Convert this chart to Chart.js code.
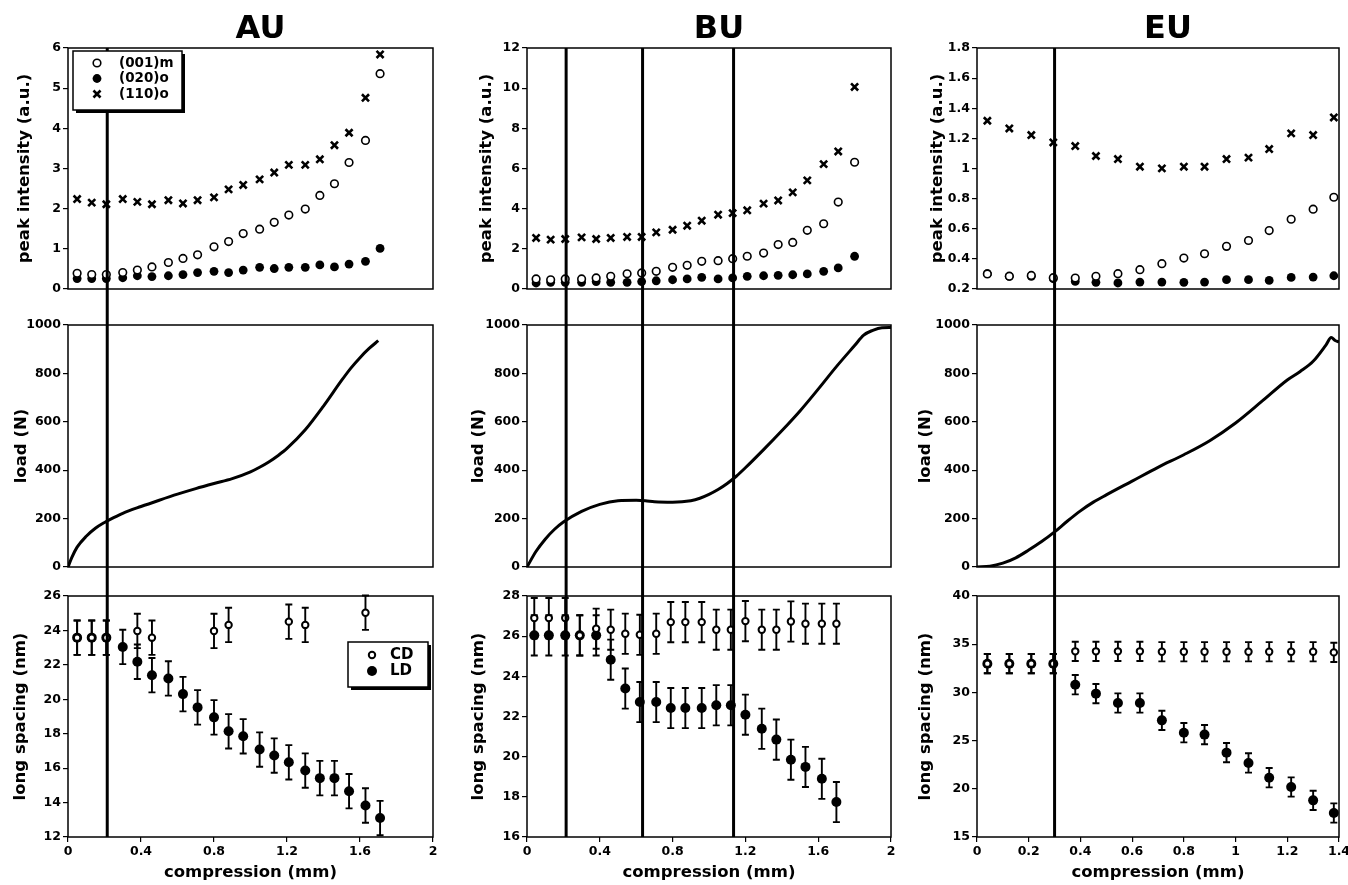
<!DOCTYPE html>
<html>
<head>
<meta charset="utf-8">
<title>AU / BU / EU under compression</title>
<script src="https://cdn.jsdelivr.net/npm/chart.js@4.4.0/dist/chart.umd.min.js"></script>
<style>
  html, body { margin: 0; padding: 0; background: #fff; overflow: hidden; }
  #fig { position: relative; width: 1348px; height: 885px; }
  #fig canvas { position: absolute; }
</style>
</head>
<body>
<div id="fig"></div>
<script>
// ---- AU ----
const auX = [0.05, 0.13, 0.21, 0.30, 0.38, 0.46, 0.55, 0.63, 0.71, 0.80, 0.88, 0.96, 1.05, 1.13, 1.21, 1.30, 1.38, 1.46, 1.54, 1.63, 1.71];
const au001 = [0.39, 0.36, 0.36, 0.41, 0.47, 0.55, 0.66, 0.76, 0.85, 1.05, 1.18, 1.38, 1.49, 1.66, 1.84, 1.99, 2.33, 2.62, 3.15, 3.70, 5.36];
const au020 = [0.26, 0.26, 0.26, 0.28, 0.33, 0.31, 0.33, 0.36, 0.41, 0.44, 0.41, 0.47, 0.54, 0.51, 0.54, 0.54, 0.60, 0.55, 0.62, 0.69, 1.01];
const au110 = [2.24, 2.15, 2.11, 2.24, 2.17, 2.11, 2.21, 2.13, 2.21, 2.28, 2.48, 2.59, 2.73, 2.90, 3.09, 3.09, 3.23, 3.58, 3.89, 4.76, 5.84];
const auLoadX = [0, 0.02, 0.05, 0.1, 0.15, 0.2, 0.25, 0.3, 0.4, 0.5, 0.6, 0.7, 0.8, 0.9, 1.0, 1.05, 1.1, 1.15, 1.2, 1.3, 1.4, 1.5, 1.55, 1.6, 1.65, 1.7];
const auLoad = [0, 38, 82, 127, 160, 184, 204, 222, 250, 276, 301, 324, 345, 365, 393, 412, 434, 460, 490, 567, 665, 772, 822, 865, 903, 935];
const auCD = [23.58, 23.58, 23.58, null, 23.97, 23.58, null, null, null, 23.97, 24.32, null, null, null, 24.51, 24.32, null, null, null, 25.03, null];
const auLD = [23.58, 23.58, 23.58, 23.04, 22.18, 21.40, 21.21, 20.30, 19.53, 18.95, 18.14, 17.85, 17.08, 16.73, 16.34, 15.86, 15.42, 15.42, 14.66, 13.83, 13.10];
const auErr = 1.0;
const auMarks = [0.215];

// ---- BU ----
const buX = [0.05, 0.13, 0.21, 0.30, 0.38, 0.46, 0.55, 0.63, 0.71, 0.80, 0.88, 0.96, 1.05, 1.13, 1.21, 1.30, 1.38, 1.46, 1.54, 1.63, 1.71, 1.80];
const bu001 = [0.50, 0.46, 0.50, 0.50, 0.55, 0.63, 0.76, 0.80, 0.88, 1.08, 1.18, 1.38, 1.41, 1.51, 1.63, 1.79, 2.21, 2.32, 2.92, 3.25, 4.33, 6.31];
const bu020 = [0.30, 0.33, 0.33, 0.33, 0.37, 0.33, 0.33, 0.37, 0.41, 0.46, 0.50, 0.58, 0.50, 0.55, 0.63, 0.66, 0.68, 0.71, 0.75, 0.88, 1.05, 1.63];
const bu110 = [2.54, 2.46, 2.49, 2.57, 2.49, 2.54, 2.59, 2.59, 2.82, 2.95, 3.15, 3.40, 3.70, 3.78, 3.92, 4.25, 4.41, 4.81, 5.41, 6.22, 6.85, 10.06];
const buLoadX = [0, 0.05, 0.1, 0.15, 0.2, 0.3, 0.4, 0.5, 0.6, 0.65, 0.7, 0.8, 0.9, 0.95, 1.0, 1.05, 1.1, 1.15, 1.2, 1.3, 1.4, 1.5, 1.6, 1.7, 1.8, 1.85, 1.9, 1.95, 2.0];
const buLoad = [0, 65, 115, 155, 186, 230, 259, 274, 276, 274, 270, 268, 274, 284, 300, 320, 345, 375, 410, 485, 563, 645, 735, 828, 915, 958, 978, 989, 990];
const buSpX = [0.04, 0.12, 0.21, 0.29, 0.38, 0.46, 0.54, 0.62, 0.71, 0.79, 0.87, 0.96, 1.04, 1.12, 1.20, 1.29, 1.37, 1.45, 1.53, 1.62, 1.70];
const buCD = [26.9, 26.9, 26.9, 26.04, 26.37, 26.32, 26.12, 26.07, 26.12, 26.7, 26.7, 26.7, 26.32, 26.32, 26.75, 26.32, 26.32, 26.73, 26.62, 26.62, 26.62];
const buLD = [26.04, 26.04, 26.04, 26.04, 26.04, 24.83, 23.39, 22.72, 22.72, 22.42, 22.42, 22.42, 22.56, 22.56, 22.09, 21.39, 20.85, 19.85, 19.49, 18.90, 17.74];
const buErr = 1.0;
const buMarks = [0.215, 0.635, 1.135];

// ---- EU ----
const euX = [0.04, 0.125, 0.21, 0.295, 0.38, 0.46, 0.545, 0.63, 0.715, 0.80, 0.88, 0.965, 1.05, 1.13, 1.215, 1.30, 1.38];
const eu001 = [0.30, 0.285, 0.29, 0.275, 0.273, 0.284, 0.302, 0.328, 0.368, 0.405, 0.434, 0.483, 0.522, 0.588, 0.663, 0.730, 0.809];
const eu020 = [0.302, 0.284, 0.284, 0.268, 0.25, 0.244, 0.240, 0.246, 0.246, 0.244, 0.246, 0.262, 0.262, 0.257, 0.277, 0.279, 0.288];
const eu110 = [1.317, 1.266, 1.222, 1.173, 1.149, 1.083, 1.063, 1.012, 1.001, 1.012, 1.012, 1.063, 1.072, 1.129, 1.233, 1.222, 1.339];
const euLoadX = [0, 0.05, 0.1, 0.15, 0.2, 0.25, 0.3, 0.35, 0.4, 0.45, 0.5, 0.6, 0.7, 0.8, 0.9, 1.0, 1.1, 1.2, 1.25, 1.3, 1.35, 1.37, 1.385, 1.4];
const euLoad = [0, 3, 16, 38, 70, 105, 145, 190, 232, 268, 298, 355, 412, 464, 522, 595, 683, 773, 808, 850, 918, 948, 936, 930];
const euCD = [32.98, 32.98, 32.98, 32.98, 34.26, 34.26, 34.26, 34.26, 34.22, 34.22, 34.22, 34.22, 34.22, 34.22, 34.22, 34.22, 34.15];
const euLD = [32.98, 32.98, 32.98, 32.98, 30.80, 29.87, 28.90, 28.90, 27.10, 25.82, 25.62, 23.75, 22.68, 21.15, 20.19, 18.80, 17.49];
const euErr = 1.0;
const euMarks = [0.30];

// panel geometry
const COLS = {
  AU: { left: 0,   width: 450, axisW: 68, padR: 17, xMax: 2,   xStep: 0.4, titlePad: [16, 13, 12] },
  BU: { left: 450, width: 450, axisW: 77, padR: 9,  xMax: 2,   xStep: 0.4, titlePad: [28, 20, 20] },
  EU: { left: 900, width: 460, axisW: 77, padR: 21, xMax: 1.4, xStep: 0.2, titlePad: [29, 17, 17] }
};
const ROWS = [
  { top: 0,   height: 300, padT: 48, padB: 11 },
  { top: 300, height: 285, padT: 25, padB: 18 },
  { top: 585, height: 300, padT: 11, padB: 0 }
];

const FAMILY = "'DejaVu Sans', sans-serif";
const TICK_FONT = { family: FAMILY, size: 12.5, weight: 'bold' };
const AXIS_FONT = { family: FAMILY, size: 16.5, weight: 'bold', lineHeight: 1 };
Chart.defaults.font.family = FAMILY;
Chart.defaults.color = '#000';

const fmt = v => String(+Number(v).toFixed(3));
const pts = (xs, ys) => xs.map((x, i) => ({ x, y: ys[i] })).filter(p => p.y != null);

// styles of the three reflections and the two spacings
const S001 = { pointStyle: 'circle', pointRadius: 3.8, backgroundColor: '#fff', borderColor: '#000', borderWidth: 1.6 };
const S020 = { pointStyle: 'circle', pointRadius: 4.4, backgroundColor: '#000', borderColor: '#000', borderWidth: 0 };
const S110 = { pointStyle: 'crossRot', pointRadius: 5, backgroundColor: '#000', borderColor: '#000', borderWidth: 2.6 };
const SCD = { pointStyle: 'circle', pointRadius: 3.2, backgroundColor: '#fff', borderColor: '#000', borderWidth: 2 };
const SLD = { pointStyle: 'circle', pointRadius: 5, backgroundColor: '#000', borderColor: '#000', borderWidth: 0 };

// box round every plot area
const frame = {
  id: 'frame',
  beforeDatasetsDraw(chart) {
    const { ctx, chartArea: a } = chart;
    ctx.save();
    ctx.strokeStyle = '#000';
    ctx.lineWidth = 1.5;
    ctx.strokeRect(a.left, a.top, a.right - a.left, a.bottom - a.top);
    ctx.restore();
  }
};

// vertical error bars with caps
const errorBars = {
  id: 'errorBars',
  beforeDatasetsDraw(chart) {
    const { ctx, scales: { x, y } } = chart;
    ctx.save();
    ctx.strokeStyle = '#000';
    ctx.lineWidth = 1.9;
    chart.data.datasets.forEach(ds => {
      if (!ds.yErr) return;
      ds.data.forEach(p => {
        const px = x.getPixelForValue(p.x);
        const lo = y.getPixelForValue(p.y - ds.yErr);
        const hi = y.getPixelForValue(p.y + ds.yErr);
        ctx.beginPath();
        ctx.moveTo(px, lo); ctx.lineTo(px, hi);
        ctx.moveTo(px - 3.5, lo); ctx.lineTo(px + 3.5, lo);
        ctx.moveTo(px - 3.5, hi); ctx.lineTo(px + 3.5, hi);
        ctx.stroke();
      });
    });
    ctx.restore();
  }
};

// compression marks running down through the whole column
function markLines(values, row) {
  return {
    id: 'markLines',
    afterDatasetsDraw(chart) {
      const { ctx, chartArea: a, scales: { x } } = chart;
      const y0 = row === 0 ? a.top : 0;
      const y1 = row === 2 ? a.bottom : chart.height;
      ctx.save();
      ctx.strokeStyle = '#000';
      ctx.lineWidth = 3;
      values.forEach(v => {
        const px = x.getPixelForValue(v);
        ctx.beginPath();
        ctx.moveTo(px, y0);
        ctx.lineTo(px, y1);
        ctx.stroke();
      });
      ctx.restore();
    }
  };
}

// legend box inside the plot, with a drop shadow
function boxLegend(o) {
  return {
    id: 'boxLegend',
    afterDraw(chart) {
      const { ctx, chartArea: a } = chart;
      const bx = a.left + o.dx, by = a.top + o.dy;
      ctx.save();
      ctx.fillStyle = '#000';
      ctx.fillRect(bx + 3, by + 3, o.w, o.h);
      ctx.fillStyle = '#fff';
      ctx.fillRect(bx, by, o.w, o.h);
      ctx.strokeStyle = '#000';
      ctx.lineWidth = 1.5;
      ctx.strokeRect(bx, by, o.w, o.h);
      ctx.font = `bold ${o.size}px ${FAMILY}`;
      ctx.textBaseline = 'middle';
      chart.data.datasets.forEach((ds, i) => {
        const ry = by + o.first + i * o.rowH;
        ctx.fillStyle = ds.backgroundColor;
        ctx.strokeStyle = ds.borderColor;
        ctx.lineWidth = ds.borderWidth;
        Chart.helpers.drawPoint(ctx, { pointStyle: ds.pointStyle, radius: ds.pointRadius, borderWidth: ds.borderWidth, rotation: 0 }, bx + o.markDx, ry);
        ctx.fillStyle = '#000';
        ctx.fillText(ds.label, bx + o.textDx, ry);
      });
      ctx.restore();
    }
  };
}

function columnTitle(text) {
  return {
    id: 'columnTitle',
    afterDraw(chart) {
      const { ctx, chartArea: a } = chart;
      ctx.save();
      ctx.font = `bold 32px ${FAMILY}`;
      ctx.fillStyle = '#000';
      ctx.textAlign = 'center';
      ctx.textBaseline = 'alphabetic';
      ctx.fillText(text, (a.left + a.right) / 2 + 10, 38);
      ctx.restore();
    }
  };
}

const fig = document.getElementById('fig');

function panel(col, row, cfg) {
  const c = COLS[col], r = ROWS[row];
  const canvas = document.createElement('canvas');
  canvas.width = c.width;
  canvas.height = r.height;
  canvas.style.left = c.left + 'px';
  canvas.style.top = r.top + 'px';
  fig.appendChild(canvas);
  const bottom = row === 2;
  const plugins = [frame, errorBars, markLines(cfg.marks, row)];
  if (cfg.legend) plugins.push(boxLegend(cfg.legend));
  if (row === 0) plugins.push(columnTitle(col));
  const xScale = {
    type: 'linear', min: 0, max: c.xMax, display: bottom,
    ticks: { stepSize: c.xStep, font: TICK_FONT, color: '#000', padding: 2, maxRotation: 0, autoSkip: false, callback: fmt },
    grid: { drawOnChartArea: false, drawTicks: true, tickLength: 5, color: '#000', lineWidth: 1.2 },
    border: { display: false },
    title: { display: true, text: 'compression (mm)', font: AXIS_FONT, color: '#000', padding: { top: 0, bottom: 4 } }
  };
  // only the bottom row carries a visible compression axis
  if (bottom) xScale.afterFit = s => { s.height = 48; };
  return new Chart(canvas, {
    type: 'scatter',
    data: { datasets: cfg.datasets },
    options: {
      responsive: false,
      animation: false,
      events: [],
      layout: { padding: { left: 0, right: c.padR, top: r.padT, bottom: r.padB } },
      plugins: { legend: { display: false }, tooltip: { enabled: false } },
      scales: {
        x: xScale,
        y: {
          type: 'linear', min: cfg.yMin, max: cfg.yMax,
          ticks: { stepSize: cfg.yStep, font: TICK_FONT, color: '#000', padding: 2, callback: fmt },
          grid: { drawOnChartArea: false, drawTicks: true, tickLength: 5, color: '#000', lineWidth: 1.2 },
          border: { display: false },
          title: { display: true, text: cfg.yTitle, font: AXIS_FONT, color: '#000', padding: { top: c.titlePad[row], bottom: 0 } },
          afterFit: s => { s.width = c.axisW; }
        }
      }
    },
    plugins
  });
}

function peakSets(xs, a, b, c) {
  return [
    Object.assign({ label: '(001)m', data: pts(xs, a) }, S001),
    Object.assign({ label: '(020)o', data: pts(xs, b) }, S020),
    Object.assign({ label: '(110)o', data: pts(xs, c) }, S110)
  ];
}
function loadSets(xs, ys) {
  return [{ label: 'load', data: pts(xs, ys), showLine: true, borderColor: '#000', borderWidth: 3, pointRadius: 0, cubicInterpolationMode: 'monotone', fill: false }];
}
function spacingSets(xs, cd, ld, err) {
  return [
    Object.assign({ label: 'CD', data: pts(xs, cd), yErr: err }, SCD),
    Object.assign({ label: 'LD', data: pts(xs, ld), yErr: err }, SLD)
  ];
}

const PEAK = 'peak intensity (a.u.)', LOAD = 'load (N)', SPACING = 'long spacing (nm)';

panel('AU', 0, { datasets: peakSets(auX, au001, au020, au110), yMin: 0, yMax: 6, yStep: 1, yTitle: PEAK, marks: auMarks,
  legend: { dx: 5, dy: 3, w: 109, h: 59, first: 12, rowH: 15.5, markDx: 24, textDx: 46, size: 13.5 } });
panel('AU', 1, { datasets: loadSets(auLoadX, auLoad), yMin: 0, yMax: 1000, yStep: 200, yTitle: LOAD, marks: auMarks });
panel('AU', 2, { datasets: spacingSets(auX, auCD, auLD, auErr), yMin: 12, yMax: 26, yStep: 2, yTitle: SPACING, marks: auMarks,
  legend: { dx: 280, dy: 46, w: 80, h: 45, first: 13, rowH: 16, markDx: 24, textDx: 42, size: 15 } });

panel('BU', 0, { datasets: peakSets(buX, bu001, bu020, bu110), yMin: 0, yMax: 12, yStep: 2, yTitle: PEAK, marks: buMarks });
panel('BU', 1, { datasets: loadSets(buLoadX, buLoad), yMin: 0, yMax: 1000, yStep: 200, yTitle: LOAD, marks: buMarks });
panel('BU', 2, { datasets: spacingSets(buSpX, buCD, buLD, buErr), yMin: 16, yMax: 28, yStep: 2, yTitle: SPACING, marks: buMarks });

panel('EU', 0, { datasets: peakSets(euX, eu001, eu020, eu110), yMin: 0.2, yMax: 1.8, yStep: 0.2, yTitle: PEAK, marks: euMarks });
panel('EU', 1, { datasets: loadSets(euLoadX, euLoad), yMin: 0, yMax: 1000, yStep: 200, yTitle: LOAD, marks: euMarks });
panel('EU', 2, { datasets: spacingSets(euX, euCD, euLD, euErr), yMin: 15, yMax: 40, yStep: 5, yTitle: SPACING, marks: euMarks });
</script>
</body>
</html>
